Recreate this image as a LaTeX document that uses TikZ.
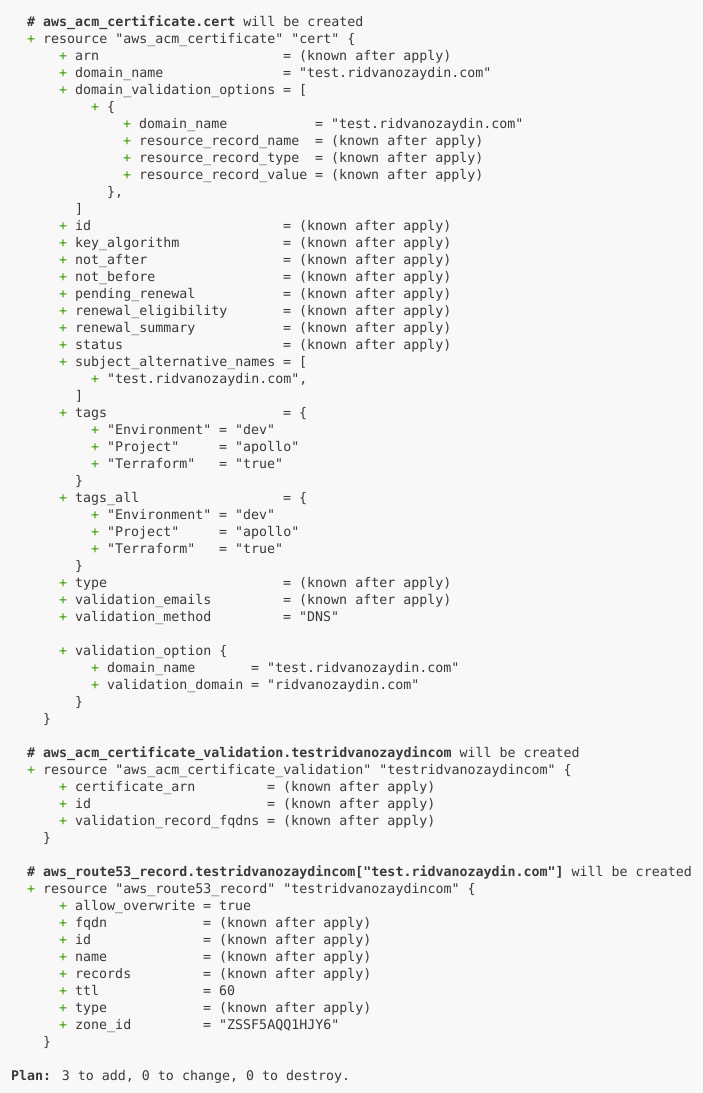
\documentclass[tikz,border=0pt]{standalone}
\usepackage{fontspec}
\newfontfamily\tm{DejaVu Sans Mono}
\definecolor{tg}{HTML}{3A9A0A}
\definecolor{tx}{HTML}{3A3A3A}
\definecolor{bg}{HTML}{F8F8F8}
\newcommand\p{\textcolor{tg}{+}}
\newcommand\T[3]{\node[txt] (l#1c#2) at ({11+8*#2},{-26.5-17*(#1-1)}) {#3};}
\tikzset{txt/.style={anchor=base west,inner sep=0pt,text=tx,font=\tm\fontsize{13.3}{15}\selectfont}}
\begin{document}
\begin{tikzpicture}[x=1pt,y=1pt]
\fill[bg] (0,0) rectangle (703,-1093);
\useasboundingbox (0,0) rectangle (703,-1093);
\T{1}{2}{{\bfseries\#~aws\_acm\_certificate.cert} will be created}
\T{2}{2}{\p~resource "aws\_acm\_certificate" "cert" \{}
\T{3}{6}{\p~arn}\T{3}{34}{= (known after apply)}
\T{4}{6}{\p~domain\_name}\T{4}{34}{= "test.ridvanozaydin.com"}
\T{5}{6}{\p~domain\_validation\_options}\T{5}{34}{= [}
\T{6}{10}{\p~\{}
\T{7}{14}{\p~domain\_name}\T{7}{38}{= "test.ridvanozaydin.com"}
\T{8}{14}{\p~resource\_record\_name}\T{8}{38}{= (known after apply)}
\T{9}{14}{\p~resource\_record\_type}\T{9}{38}{= (known after apply)}
\T{10}{14}{\p~resource\_record\_value}\T{10}{38}{= (known after apply)}
\T{11}{12}{\},}
\T{12}{8}{]}
\T{13}{6}{\p~id}\T{13}{34}{= (known after apply)}
\T{14}{6}{\p~key\_algorithm}\T{14}{34}{= (known after apply)}
\T{15}{6}{\p~not\_after}\T{15}{34}{= (known after apply)}
\T{16}{6}{\p~not\_before}\T{16}{34}{= (known after apply)}
\T{17}{6}{\p~pending\_renewal}\T{17}{34}{= (known after apply)}
\T{18}{6}{\p~renewal\_eligibility}\T{18}{34}{= (known after apply)}
\T{19}{6}{\p~renewal\_summary}\T{19}{34}{= (known after apply)}
\T{20}{6}{\p~status}\T{20}{34}{= (known after apply)}
\T{21}{6}{\p~subject\_alternative\_names}\T{21}{34}{= [}
\T{22}{10}{\p~"test.ridvanozaydin.com",}
\T{23}{8}{]}
\T{24}{6}{\p~tags}\T{24}{34}{= \{}
\T{25}{10}{\p~"Environment"}\T{25}{26}{= "dev"}
\T{26}{10}{\p~"Project"}\T{26}{26}{= "apollo"}
\T{27}{10}{\p~"Terraform"}\T{27}{26}{= "true"}
\T{28}{8}{\}}
\T{29}{6}{\p~tags\_all}\T{29}{34}{= \{}
\T{30}{10}{\p~"Environment"}\T{30}{26}{= "dev"}
\T{31}{10}{\p~"Project"}\T{31}{26}{= "apollo"}
\T{32}{10}{\p~"Terraform"}\T{32}{26}{= "true"}
\T{33}{8}{\}}
\T{34}{6}{\p~type}\T{34}{34}{= (known after apply)}
\T{35}{6}{\p~validation\_emails}\T{35}{34}{= (known after apply)}
\T{36}{6}{\p~validation\_method}\T{36}{34}{= "DNS"}
\T{38}{6}{\p~validation\_option \{}
\T{39}{10}{\p~domain\_name}\T{39}{30}{= "test.ridvanozaydin.com"}
\T{40}{10}{\p~validation\_domain}\T{40}{30}{= "ridvanozaydin.com"}
\T{41}{8}{\}}
\T{42}{4}{\}}
\T{44}{2}{{\bfseries\#~aws\_acm\_certificate\_validation.testridvanozaydincom} will be created}
\T{45}{2}{\p~resource "aws\_acm\_certificate\_validation" "testridvanozaydincom" \{}
\T{46}{6}{\p~certificate\_arn}\T{46}{32}{= (known after apply)}
\T{47}{6}{\p~id}\T{47}{32}{= (known after apply)}
\T{48}{6}{\p~validation\_record\_fqdns}\T{48}{32}{= (known after apply)}
\T{49}{4}{\}}
\T{51}{2}{{\bfseries\#~aws\_route53\_record.testridvanozaydincom["test.ridvanozaydin.com"]} will be created}
\T{52}{2}{\p~resource "aws\_route53\_record" "testridvanozaydincom" \{}
\T{53}{6}{\p~allow\_overwrite}\T{53}{24}{= true}
\T{54}{6}{\p~fqdn}\T{54}{24}{= (known after apply)}
\T{55}{6}{\p~id}\T{55}{24}{= (known after apply)}
\T{56}{6}{\p~name}\T{56}{24}{= (known after apply)}
\T{57}{6}{\p~records}\T{57}{24}{= (known after apply)}
\T{58}{6}{\p~ttl}\T{58}{24}{= 60}
\T{59}{6}{\p~type}\T{59}{24}{= (known after apply)}
\T{60}{6}{\p~zone\_id}\T{60}{24}{= "ZSSF5AQQ1HJY6"}
\T{61}{4}{\}}
\T{63}{0}{{\bfseries Plan:} 3 to add, 0 to change, 0 to destroy.}
\end{tikzpicture}
\end{document}
